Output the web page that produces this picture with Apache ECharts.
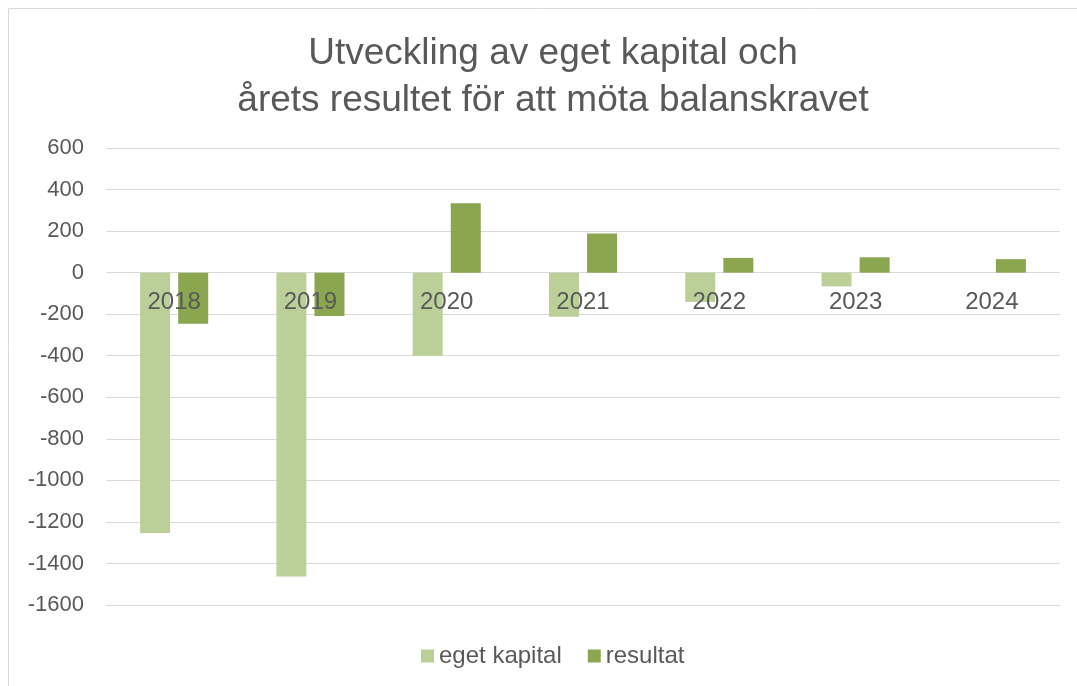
<!DOCTYPE html>
<html>
<head>
<meta charset="utf-8">
<script src="https://cdn.jsdelivr.net/npm/echarts@6/dist/echarts.min.js"></script>
<style>
  html, body { margin: 0; padding: 0; background: #fff; }
  #main { width: 1077px; height: 686px; }
</style>
</head>
<body>
<div id="main"></div>
<script>
  // 数据
  var years = ['2018', '2019', '2020', '2021', '2022', '2023', '2024'];
  var egetKapital = [-1253, -1463, -400, -212, -141, -66, null];
  var resultat = [-246, -209, 334, 188, 71, 74, 65];

  var myChart = echarts.init(document.getElementById('main'));

  var textColor = '#595959';
  var font = '"Liberation Sans", Arial, sans-serif';

  var option = {
    backgroundColor: '#fff',
    textStyle: { fontFamily: font },
    // 外框
    graphic: [{
      type: 'rect',
      shape: { x: 8.5, y: 8.5, width: 1090, height: 700 },
      style: { fill: 'none', stroke: '#d9d9d9', lineWidth: 1 },
      silent: true
    }],
    title: {
      text: 'Utveckling av eget kapital och\nårets resultet för att möta balanskravet',
      left: 548,
      top: 25,
      textAlign: 'center',
      textStyle: {
        color: textColor,
        fontSize: 37,
        fontWeight: 'normal',
        lineHeight: 47,
        fontFamily: font
      }
    },
    legend: {
      bottom: 13,
      left: 416,
      itemWidth: 13,
      itemHeight: 13,
      itemGap: 26,
      icon: 'rect',
      textStyle: { color: textColor, fontSize: 24, fontFamily: font },
      data: ['eget kapital', 'resultat']
    },
    grid: {
      left: 106,
      right: 17,
      top: 148,
      bottom: 81
    },
    xAxis: {
      type: 'category',
      data: years,
      z: 10,
      // 标签放在零线处
      offset: -332,
      axisLine: { show: false },
      axisTick: { show: false },
      axisLabel: { color: textColor, fontSize: 24, margin: 17, fontFamily: font }
    },
    yAxis: {
      type: 'value',
      min: -1600,
      max: 600,
      interval: 200,
      axisLine: { show: false },
      axisTick: { show: false },
      axisLabel: {
        color: textColor, fontSize: 22, margin: 22, fontFamily: font,
        formatter: function (v) { return String(v); }
      },
      splitLine: { lineStyle: { color: '#d9d9d9', width: 1 } }
    },
    series: [
      {
        name: 'eget kapital',
        type: 'bar',
        barWidth: 30,
        barGap: '27%',
        itemStyle: { color: '#bbd098' },
        data: egetKapital
      },
      {
        name: 'resultat',
        type: 'bar',
        barWidth: 30,
        itemStyle: { color: '#8aa64e' },
        data: resultat
      }
    ]
  };

  myChart.setOption(option);
</script>
</body>
</html>
